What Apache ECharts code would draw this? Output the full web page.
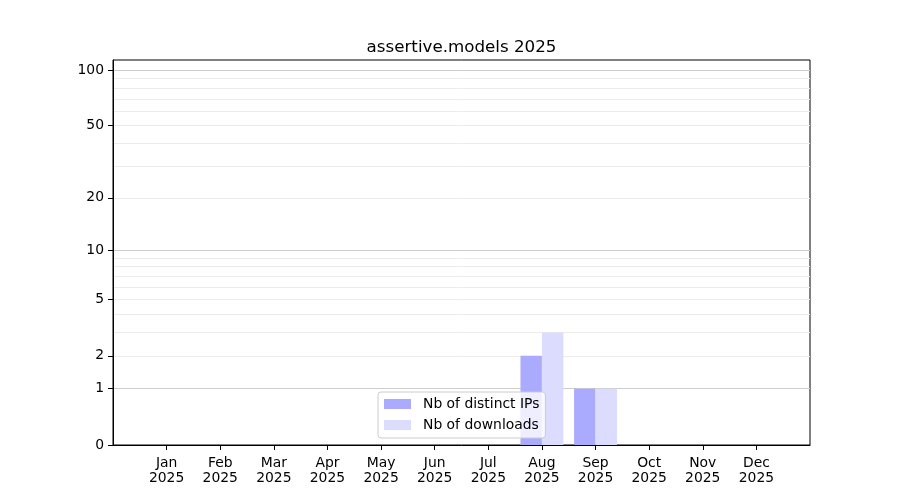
<!DOCTYPE html>
<html>
<head>
<meta charset="utf-8">
<title>assertive.models 2025</title>
<script src="https://cdn.jsdelivr.net/npm/echarts@6/dist/echarts.min.js"></script>
<style>
  html, body { margin: 0; padding: 0; background: #fff; }
  #chart { width: 900px; height: 500px; }
</style>
</head>
<body>
<div id="chart"></div>
<script>
// data
const months = ['Jan', 'Feb', 'Mar', 'Apr', 'May', 'Jun', 'Jul', 'Aug', 'Sep', 'Oct', 'Nov', 'Dec'];
const year = '2025';
const distinctIps = [0, 0, 0, 0, 0, 0, 0, 2, 1, 0, 0, 0];
const downloads = [0, 0, 0, 0, 0, 0, 0, 3, 1, 0, 0, 0];

// y axis: log(1 + x) scale
const yTickLabels = [0, 1, 2, 5, 10, 20, 50, 100];
const yMajorGrid = [1, 10, 100];
const yMinorGrid = [2, 3, 4, 5, 6, 7, 8, 9, 20, 30, 40, 50, 60, 70, 80, 90];
const yTop = 113.6;

const FONT = 'DejaVu Sans';
const tf = v => Math.log10(1 + v);
const inv = t => Math.round(Math.pow(10, t) - 1);

// one empty slot each side, like the reference x range
const cats = [''].concat(months.map(m => m + '\n' + year), ['']);
const pad = arr => [null].concat(arr.map(tf), [null]);

const yMax = tf(yTop);

function gridAxis(values, color) {
  return {
    type: 'value', min: 0, max: yMax,
    axisLine: { show: false },
    axisLabel: { show: false },
    axisTick: { show: false, customValues: values.map(tf) },
    splitLine: { show: true, lineStyle: { color: color, width: 1 } }
  };
}

const chart = echarts.init(document.getElementById('chart'));
chart.setOption({
  animation: false,
  textStyle: { fontFamily: FONT },
  title: {
    text: 'assertive.models ' + year,
    left: 461.5, top: 39, textAlign: 'center', padding: 0,
    textStyle: { fontFamily: FONT, fontSize: 16.7, fontWeight: 'normal', color: '#000' }
  },
  legend: {
    orient: 'vertical',
    left: 378, top: 392,
    padding: [5, 6, 6, 6],
    itemGap: 7,
    itemWidth: 27, itemHeight: 10,
    icon: 'rect',
    backgroundColor: 'rgba(255,255,255,0.8)',
    borderColor: '#cccccc', borderWidth: 1, borderRadius: 3,
    textStyle: { fontFamily: FONT, fontSize: 13.9, color: '#000', padding: [0, 0, 0, 7] },
    data: ['Nb of distinct IPs', 'Nb of downloads']
  },
  grid: {
    left: 113, right: 90, top: 60, bottom: 55,
    show: true, borderColor: '#000', borderWidth: 1, backgroundColor: 'transparent'
  },
  xAxis: {
    type: 'category',
    data: cats,
    boundaryGap: false,
    axisLine: { show: true, lineStyle: { color: '#000', width: 1 } },
    axisTick: { show: true, length: 5, lineStyle: { color: '#000' },
      interval: (i, v) => v !== '' },
    axisLabel: { interval: 0, margin: 11, fontFamily: FONT, fontSize: 13.9, color: '#000', lineHeight: 15 },
    splitLine: { show: false }
  },
  yAxis: [
    {
      type: 'value', min: 0, max: yMax,
      axisLine: { show: true, lineStyle: { color: '#000', width: 1 } },
      axisTick: { show: true, length: 5, lineStyle: { color: '#000' }, customValues: yTickLabels.map(tf) },
      axisLabel: { customValues: yTickLabels.map(tf), margin: 9, fontFamily: FONT, fontSize: 13.9, color: '#000',
        formatter: v => String(inv(v)) },
      splitLine: { show: false }
    },
    gridAxis(yMinorGrid, '#ececec'),
    gridAxis(yMajorGrid, '#cdcdcd')
  ],
  series: [
    {
      name: 'Nb of distinct IPs', type: 'bar',
      data: pad(distinctIps),
      barWidth: '40%', barGap: '0%',
      itemStyle: { color: '#aaaaff' }
    },
    {
      name: 'Nb of downloads', type: 'bar',
      data: pad(downloads),
      barWidth: '40%', barGap: '0%',
      itemStyle: { color: '#dcdcff' }
    }
  ]
});
</script>
</body>
</html>
